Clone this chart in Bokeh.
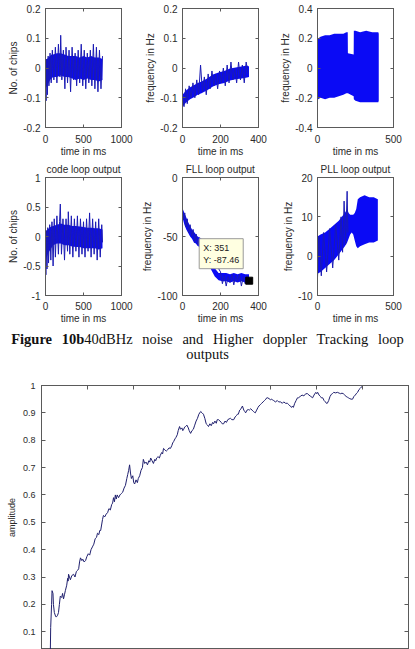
from bokeh.embed import file_html
from bokeh.layouts import column, row
from bokeh.models import CustomLabelingPolicy, Div, FixedTicker, Label, LinearAxis, Range1d
from bokeh.plotting import figure
from bokeh.resources import INLINE

# ---------------------------------------------------------------------------
# Tracking loop outputs, first run (upper row)
# ---------------------------------------------------------------------------
# code loop (chips): core band envelope and the noisy trace on top of it
CODE1_T = [0, 20, 40, 60, 80, 100, 150, 200, 250, 300, 350, 400, 450, 500, 550, 600, 650, 700, 750]
CODE1_HI = [0.02, 0.03, 0.035, 0.04, 0.045, 0.045, 0.05, 0.05, 0.045, 0.04, 0.04, 0.04, 0.035, 0.04, 0.035, 0.04, 0.035, 0.035, 0.03]
CODE1_LO = [-0.07, -0.06, -0.05, -0.04, -0.035, -0.03, -0.03, -0.025, -0.03, -0.03, -0.035, -0.04, -0.035, -0.04, -0.035, -0.04, -0.04, -0.045, -0.04]
CODE1_TRACE_T = [0, 8, 15, 25, 35, 45, 60, 75, 90, 110, 130, 150, 170, 190, 200, 215, 235, 255, 270, 290, 310, 330, 350, 370, 390, 410, 430, 450, 470, 490, 510, 530, 550, 570, 590, 610, 630, 650, 670, 690, 710, 730, 750]
CODE1_TRACE_V = [-0.02, -0.11, 0.03, -0.09, 0.04, -0.06, 0.05, -0.05, 0.06, -0.04, 0.07, -0.05, 0.08, -0.03, 0.11, -0.04, 0.06, -0.07, 0.07, -0.05, 0.06, -0.08, 0.07, -0.04, 0.05, -0.06, 0.06, -0.05, 0.08, -0.06, 0.06, -0.07, 0.05, -0.05, 0.06, -0.06, 0.08, -0.07, 0.07, -0.08, 0.06, -0.07, 0.04]

# FLL (Hz)
FLL1_T = [0, 20, 40, 60, 80, 100, 130, 160, 190, 220, 250, 280, 310, 340, 350]
FLL1_HI = [-0.09, -0.075, -0.065, -0.058, -0.05, -0.045, -0.035, -0.022, -0.015, -0.01, -0.002, 0.002, 0.005, 0.008, 0.005]
FLL1_LO = [-0.13, -0.115, -0.105, -0.098, -0.09, -0.085, -0.075, -0.062, -0.055, -0.05, -0.042, -0.038, -0.035, -0.032, -0.03]
FLL1_TRACE_T = [0, 8, 16, 25, 35, 45, 55, 65, 75, 85, 95, 105, 115, 125, 135, 145, 155, 165, 175, 185, 195, 205, 215, 225, 235, 245, 255, 265, 275, 285, 295, 305, 315, 325, 335, 345]
FLL1_TRACE_V = [-0.1, -0.13, -0.07, -0.12, -0.06, -0.1, -0.05, -0.1, -0.04, -0.09, 0.01, -0.08, -0.03, -0.09, -0.02, -0.07, -0.01, -0.06, -0.02, -0.07, -0.01, -0.05, 0.0, -0.06, 0.01, -0.05, 0.02, -0.04, 0.0, -0.05, 0.02, -0.04, 0.01, -0.05, 0.02, -0.02]

# PLL (Hz)
PLL1_T = [0, 5, 20, 50, 80, 110, 140, 170, 190, 199, 200, 238, 239, 250, 280, 320, 360, 400, 403]
PLL1_HI = [0.19, 0.2, 0.21, 0.22, 0.22, 0.23, 0.23, 0.23, 0.24, 0.24, 0.1, 0.09, 0.25, 0.25, 0.24, 0.25, 0.24, 0.24, 0.23]
PLL1_LO = [-0.2, -0.21, -0.2, -0.21, -0.2, -0.2, -0.19, -0.18, -0.17, -0.17, -0.17, -0.19, -0.21, -0.22, -0.23, -0.23, -0.23, -0.23, -0.22]

# ---------------------------------------------------------------------------
# Tracking loop outputs, second run (lower row)
# ---------------------------------------------------------------------------
CODE2_T = [0, 15, 30, 50, 75, 100, 150, 200, 250, 300, 350, 400, 450, 500, 550, 600, 650, 700, 750]
CODE2_HI = [0.05, 0.1, 0.12, 0.15, 0.17, 0.18, 0.2, 0.22, 0.2, 0.2, 0.18, 0.18, 0.17, 0.16, 0.15, 0.15, 0.14, 0.14, 0.12]
CODE2_LO = [-0.45, -0.35, -0.3, -0.25, -0.2, -0.15, -0.12, -0.12, -0.15, -0.15, -0.17, -0.18, -0.18, -0.2, -0.2, -0.2, -0.2, -0.22, -0.2]
CODE2_TRACE_T = [0, 5, 12, 20, 30, 40, 55, 70, 85, 100, 115, 130, 150, 170, 185, 195, 210, 230, 250, 270, 290, 300, 320, 340, 360, 380, 400, 420, 440, 460, 480, 500, 520, 540, 560, 580, 600, 620, 640, 660, 680, 700, 720, 740, 750]
CODE2_TRACE_V = [-0.2, -0.65, 0.1, -0.55, 0.15, -0.45, 0.2, -0.4, 0.25, -0.5, 0.3, -0.35, 0.35, -0.3, 0.25, 0.55, -0.3, 0.3, -0.4, 0.3, -0.25, 0.42, -0.3, 0.35, -0.35, 0.3, -0.25, 0.35, -0.35, 0.3, -0.3, 0.25, -0.35, 0.3, -0.25, 0.4, -0.35, 0.3, -0.3, 0.25, -0.4, 0.3, -0.35, 0.2, -0.1]

FLL2_T = [0, 10, 20, 30, 40, 50, 60, 70, 80, 90, 100, 110, 130, 150, 170, 190, 210, 230, 250, 270, 290, 310, 330, 350]
FLL2_HI = [-26, -30, -34, -38, -41, -44, -46, -48, -50, -51, -52, -55, -62, -70, -77, -81, -81, -81, -82, -81, -82, -81, -82, -82]
FLL2_LO = [-34, -40, -44, -47, -50, -52, -55, -56, -58, -59, -60, -63, -70, -78, -84, -87, -88, -88, -89, -88, -89, -88, -89, -88]
FLL2_TRACE_T = [0, 6, 12, 18, 25, 32, 40, 48, 56, 64, 72, 80, 90, 100, 110, 120, 200, 210, 220, 230, 240, 250, 260, 270, 280, 290, 300, 310, 320, 330, 340, 350]
FLL2_TRACE_V = [-28, -36, -30, -42, -35, -47, -40, -50, -44, -55, -48, -57, -51, -60, -53, -58, -80, -90, -83, -92, -84, -89, -82, -91, -83, -88, -82, -92, -84, -90, -83, -87]
FLL2_CURSOR_T = [351]
FLL2_CURSOR_V = [-87.46]

PLL2_T = [0, 20, 50, 80, 110, 140, 160, 180, 195, 205, 215, 225, 235, 245, 255, 265, 280, 310, 340, 370, 397]
PLL2_HI = [5, 5.5, 6, 7, 8, 9, 10, 11, 12, 11, 10.5, 10.5, 10.5, 11, 12, 14.5, 15, 15.5, 15, 15, 14.5]
PLL2_LO = [-4.5, -4, -3, -2, -1, 0.5, 1.5, 2.5, 3.5, 4.5, 5.5, 6, 5.5, 4, 2.5, 2, 2.5, 3, 3.5, 3.5, 4]
PLL2_TRACE_T = [0, 10, 25, 40, 60, 80, 100, 120, 140, 155, 165, 175, 185, 195, 200]
PLL2_TRACE_V = [-5.5, 5, -5, 6, -4, 7, -3, 8, -1, 10, 1, 14, 3, 16.5, 6]

# ---------------------------------------------------------------------------
# Amplitude
# ---------------------------------------------------------------------------
AMP_T = [19, 20, 22, 23, 25, 26, 28, 31, 33, 35,
         37, 39, 41, 44, 46, 48, 50, 52, 55, 57,
         58, 59, 61, 63, 66, 70, 73, 76, 79, 81,
         83, 85, 88, 90, 93, 96, 99, 102, 105, 108,
         111, 114, 117, 120, 122, 125, 127, 129, 131, 133,
         135, 138, 141, 144, 147, 150, 153, 155, 157, 159,
         161, 163, 165, 168, 171, 174, 177, 180, 183, 186,
         188, 190, 192, 194, 196, 199, 201, 203, 206, 209,
         211, 214, 217, 220, 222, 225, 228, 231, 234, 236,
         238, 241, 244, 247, 249, 251, 254, 257, 259, 262,
         264, 266, 269, 272, 275, 278, 281, 284, 286, 288,
         291, 293, 296, 298, 301, 303, 306, 308, 310, 312,
         314, 317, 320, 322, 325, 328, 331, 334, 337, 340,
         343, 347, 350, 353, 356, 359, 362, 364, 367, 370,
         373, 375, 378, 381, 383, 386, 389, 392, 394, 397,
         400, 403, 406, 409, 412, 415, 419, 422, 425, 427,
         429, 432, 435, 438, 441, 443, 445, 448, 451, 453,
         456, 459, 462, 464, 466, 469, 472, 474, 477, 480,
         483, 486, 489, 491, 493, 496, 499, 502, 504, 506,
         510, 514, 517, 521, 525, 528, 532, 536, 539, 542,
         545, 547, 549, 552, 555, 558, 560, 564, 568, 572,
         576, 580, 583, 587, 591, 594, 598, 600, 602, 605,
         608, 610, 613, 616, 619, 621, 623, 626, 629, 632,
         634, 637, 641, 645, 649, 652, 655, 658, 661, 664,
         667, 669, 672, 675, 678, 681, 684, 687, 689, 692,
         695, 698, 700]
AMP_V = [0.0, 0.115, 0.2, 0.25, 0.24, 0.2, 0.17, 0.155, 0.155, 0.16,
         0.17, 0.2, 0.23, 0.225, 0.24, 0.22, 0.235, 0.25, 0.27, 0.295,
         0.285, 0.31, 0.3, 0.29, 0.305, 0.31, 0.3, 0.32, 0.325, 0.33,
         0.355, 0.37, 0.36, 0.365, 0.355, 0.36, 0.375, 0.385, 0.38, 0.4,
         0.41, 0.42, 0.44, 0.445, 0.46, 0.455, 0.47, 0.47, 0.49, 0.51,
         0.525, 0.52, 0.53, 0.535, 0.55, 0.545, 0.565, 0.57, 0.59, 0.575,
         0.6, 0.585, 0.6, 0.59, 0.6, 0.605, 0.61, 0.625, 0.635, 0.66,
         0.675, 0.69, 0.71, 0.68, 0.66, 0.67, 0.645, 0.64, 0.655, 0.645,
         0.66, 0.67, 0.69, 0.70, 0.73, 0.715, 0.72, 0.71, 0.725, 0.72,
         0.735, 0.725, 0.715, 0.73, 0.725, 0.735, 0.74, 0.735, 0.745, 0.755,
         0.75, 0.77, 0.765, 0.76, 0.765, 0.772, 0.77, 0.78, 0.79, 0.795,
         0.805, 0.81, 0.82, 0.835, 0.85, 0.84, 0.845, 0.835, 0.84, 0.848,
         0.85, 0.855, 0.845, 0.835, 0.825, 0.835, 0.84, 0.855, 0.87, 0.88,
         0.895, 0.905, 0.9, 0.895, 0.88, 0.86, 0.855, 0.85, 0.86, 0.853,
         0.865, 0.86, 0.87, 0.862, 0.875, 0.875, 0.87, 0.865, 0.86, 0.86,
         0.87, 0.865, 0.875, 0.878, 0.88, 0.875, 0.875, 0.885, 0.89, 0.895,
         0.895, 0.91, 0.915, 0.925, 0.91, 0.905, 0.9, 0.91, 0.912, 0.91,
         0.915, 0.91, 0.905, 0.902, 0.9, 0.91, 0.92, 0.925, 0.93, 0.935,
         0.94, 0.945, 0.95, 0.955, 0.955, 0.952, 0.948, 0.95, 0.947, 0.945,
         0.94, 0.945, 0.94, 0.94, 0.935, 0.94, 0.935, 0.935, 0.93, 0.925,
         0.92, 0.925, 0.92, 0.935, 0.945, 0.955, 0.955, 0.96, 0.965, 0.962,
         0.97, 0.97, 0.965, 0.96, 0.955, 0.965, 0.975, 0.97, 0.975, 0.965,
         0.96, 0.955, 0.955, 0.945, 0.94, 0.935, 0.935, 0.945, 0.96, 0.968,
         0.97, 0.975, 0.973, 0.975, 0.972, 0.97, 0.972, 0.97, 0.965, 0.96,
         0.957, 0.955, 0.952, 0.95, 0.95, 0.96, 0.965, 0.972, 0.975, 0.985,
         0.99, 0.995, 1.0]

# tick positions and their labels
MS1000_TICKS, MS1000_LABELS = [0, 500, 1000], ["0", "500", "1000"]
MS400_TICKS, MS400_LABELS = [0, 200, 400], ["0", "200", "400"]
MS500_TICKS, MS500_LABELS = [0, 500], ["0", "500"]
Y02_TICKS, Y02_LABELS = [-0.2, -0.1, 0, 0.1, 0.2], ["-0.2", "-0.1", "0", "0.1", "0.2"]
Y04_TICKS, Y04_LABELS = [-0.4, -0.2, 0, 0.2, 0.4], ["-0.4", "-0.2", "0", "0.2", "0.4"]
Y1_TICKS, Y1_LABELS = [-1, -0.5, 0, 0.5, 1], ["-1", "-0.5", "0", "0.5", "1"]
Y100_TICKS, Y100_LABELS = [-100, -50, 0], ["-100", "-50", "0"]
Y20_TICKS, Y20_LABELS = [-10, 0, 10, 20], ["-10", "0", "10", "20"]
AMP_XTICKS = [0, 100, 200, 300, 400, 500, 600, 700, 800]
AMP_YTICKS = [0.1, 0.2, 0.3, 0.4, 0.5, 0.6, 0.7, 0.8, 0.9, 1.0]
AMP_YLABELS = ["0.1", "0.2", "0.3", "0.4", "0.5", "0.6", "0.7", "0.8", "0.9", "1"]

CAPTION_BOLD = "Figure 10b"
CAPTION_REST = "40dBHz noise and Higher doppler Tracking loop"
CAPTION_TAIL = "outputs"

FONT = "Liberation Sans"
INK = "#2b2b2b"
FRAME = "#5a5a5a"
BLUE = "#0a0af5"
BLUE_DARK = "#1b1bb4"

# mirrored (top / right) axes carry tick marks only
NO_LABELS = CustomLabelingPolicy(code="""
    for (const i of Array.from(indices)) indices.unset(i)
    return indices
""")


def make_fig(width, height, left, right, top, bottom, xr, yr, title=None):
    p = figure(width=width, height=height, x_range=Range1d(*xr), y_range=Range1d(*yr),
               min_border_left=left, min_border_right=right,
               min_border_top=top, min_border_bottom=bottom,
               title=title, output_backend="svg", toolbar_location=None)
    p.background_fill_color = "white"
    p.border_fill_color = "white"
    p.outline_line_color = FRAME
    p.outline_line_width = 1
    p.xgrid.visible = False
    p.ygrid.visible = False
    if title is not None:
        p.title.text_font = FONT
        p.title.text_font_size = "10px"
        p.title.text_font_style = "normal"
        p.title.text_color = INK
        p.title.align = "center"
        p.title.standoff = 5
    return p


def style_axis(ax, ticks, labels, size, tick_len, standoff, label=None, label_standoff=2):
    ax.ticker = FixedTicker(ticks=ticks, minor_ticks=[])
    ax.major_tick_in = tick_len
    ax.major_tick_out = 0
    ax.minor_tick_line_color = None
    ax.axis_line_color = FRAME
    ax.major_tick_line_color = FRAME
    if labels is None:
        ax.major_label_policy = NO_LABELS
        ax.major_label_text_font_size = "0px"
        ax.major_label_standoff = 0
        ax.axis_label_standoff = 0
        return
    ax.major_label_overrides = dict(zip(ticks, labels))
    ax.major_label_text_font = FONT
    ax.major_label_text_font_size = f"{size}px"
    ax.major_label_text_color = INK
    ax.major_label_standoff = standoff
    if label is not None:
        ax.axis_label = label
        ax.axis_label_text_font = FONT
        ax.axis_label_text_font_size = f"{size}px"
        ax.axis_label_text_font_style = "normal"
        ax.axis_label_text_color = INK
        ax.axis_label_standoff = label_standoff


def boxed(p, xticks, xlabels, yticks, ylabels, ylabel, x_standoff, xlabel="time in ms", size=10, tick_len=3):
    style_axis(p.below[0], xticks, xlabels, size, tick_len, x_standoff, xlabel, 0)
    style_axis(p.left[0], yticks, ylabels, size, tick_len, 5, ylabel, 1)
    top_axis = LinearAxis()
    right_axis = LinearAxis()
    p.add_layout(top_axis, "above")
    p.add_layout(right_axis, "right")
    style_axis(top_axis, xticks, None, size, tick_len, 0)
    style_axis(right_axis, yticks, None, size, tick_len, 0)


def noisy(p, t, lo, hi, tr_t=None, tr_v=None):
    p.varea(x=t, y1=lo, y2=hi, fill_color=BLUE, fill_alpha=1)
    if tr_t is not None:
        p.line(x=tr_t, y=tr_v, line_color=BLUE_DARK, line_width=1)


# column geometry: (figure width, left border, right border)
COLS = [(137, 45, 16), (136, 45, 15), (142, 44, 22)]
# row geometry: (figure height, top border, bottom border, tick label standoff)
ROW1 = (159, 8, 31, 7)
ROW2 = (167, 17, 30, 6)

# ---- upper row ----
f1 = make_fig(COLS[0][0], ROW1[0], COLS[0][1], COLS[0][2], ROW1[1], ROW1[2], (0, 1000), (-0.2, 0.2))
noisy(f1, CODE1_T, CODE1_LO, CODE1_HI, CODE1_TRACE_T, CODE1_TRACE_V)
boxed(f1, MS1000_TICKS, MS1000_LABELS, Y02_TICKS, Y02_LABELS, "No. of chips", ROW1[3])

f2 = make_fig(COLS[1][0], ROW1[0], COLS[1][1], COLS[1][2], ROW1[1], ROW1[2], (0, 400), (-0.2, 0.2))
noisy(f2, FLL1_T, FLL1_LO, FLL1_HI, FLL1_TRACE_T, FLL1_TRACE_V)
boxed(f2, MS400_TICKS, MS400_LABELS, Y02_TICKS, Y02_LABELS, "frequency in Hz", ROW1[3])

f3 = make_fig(COLS[2][0], ROW1[0], COLS[2][1], COLS[2][2], ROW1[1], ROW1[2], (0, 500), (-0.4, 0.4))
noisy(f3, PLL1_T, PLL1_LO, PLL1_HI)
boxed(f3, MS500_TICKS, MS500_LABELS, Y04_TICKS, Y04_LABELS, "frequency in Hz", ROW1[3])

# ---- lower row ----
f4 = make_fig(COLS[0][0], ROW2[0], COLS[0][1], COLS[0][2], ROW2[1], ROW2[2], (0, 1000), (-1, 1), "code loop output")
noisy(f4, CODE2_T, CODE2_LO, CODE2_HI, CODE2_TRACE_T, CODE2_TRACE_V)
boxed(f4, MS1000_TICKS, MS1000_LABELS, Y1_TICKS, Y1_LABELS, "No. of chips", ROW2[3])

f5 = make_fig(COLS[1][0], ROW2[0], COLS[1][1], COLS[1][2], ROW2[1], ROW2[2], (0, 400), (-100, 0), "FLL loop output")
noisy(f5, FLL2_T, FLL2_LO, FLL2_HI, FLL2_TRACE_T, FLL2_TRACE_V)
boxed(f5, MS400_TICKS, MS400_LABELS, Y100_TICKS, Y100_LABELS, "frequency in Hz", ROW2[3])
f5.scatter(x=FLL2_CURSOR_T, y=FLL2_CURSOR_V, marker="square", size=7,
           fill_color="black", line_color="black")
f5.add_layout(Label(x=FLL2_CURSOR_T[0], y=FLL2_CURSOR_V[0],
                    text=f"X: {FLL2_CURSOR_T[0]}\nY: {FLL2_CURSOR_V[0]}",
                    x_offset=-50, y_offset=12, text_align="left", text_baseline="bottom",
                    text_font=FONT, text_font_size="9px", text_color="#222222",
                    background_fill_color="#ffffe1", border_line_color="#9a9a9a",
                    padding=4))

f6 = make_fig(COLS[2][0], ROW2[0], COLS[2][1], COLS[2][2], ROW2[1], ROW2[2], (0, 500), (-10, 20), "PLL loop output")
noisy(f6, PLL2_T, PLL2_LO, PLL2_HI, PLL2_TRACE_T, PLL2_TRACE_V)
boxed(f6, MS500_TICKS, MS500_LABELS, Y20_TICKS, Y20_LABELS, "frequency in Hz", ROW2[3])

# ---- caption ----
caption = Div(
    text=(
        '<div style="font-family:\'Liberation Serif\',serif;font-size:14.5px;line-height:14.5px;'
        'text-align:center;color:#111;word-spacing:6px;margin:0;padding:6px 0 0 0;width:415px">'
        f"<b>{CAPTION_BOLD}</b>{CAPTION_REST}<br>{CAPTION_TAIL}</div>"
    ),
    width=415, height=44, styles={"margin": "0", "padding": "0"},
)

# ---- amplitude ----
f7 = figure(width=415, height=279, x_range=Range1d(0, 800), y_range=Range1d(0.035, 1.0),
            min_border_left=41, min_border_right=7, min_border_top=15, min_border_bottom=0,
            x_axis_location="above", title=None, output_backend="svg", toolbar_location=None)
f7.background_fill_color = "white"
f7.border_fill_color = "white"
f7.outline_line_color = FRAME
f7.xgrid.visible = False
f7.ygrid.visible = False
f7.line(x=AMP_T, y=AMP_V, line_color="#20206e", line_width=1)
style_axis(f7.above[0], AMP_XTICKS, None, 9, 4, 0)
style_axis(f7.left[0], AMP_YTICKS, AMP_YLABELS, 9, 4, 6, "amplitude", 3)
amp_right = LinearAxis()
f7.add_layout(amp_right, "right")
style_axis(amp_right, AMP_YTICKS, None, 9, 4, 0)

layout = column(
    row(f1, f2, f3, spacing=0),
    row(f4, f5, f6, spacing=0),
    caption,
    f7,
    spacing=0,
)

open("out.html", "w").write(file_html(layout, INLINE))
